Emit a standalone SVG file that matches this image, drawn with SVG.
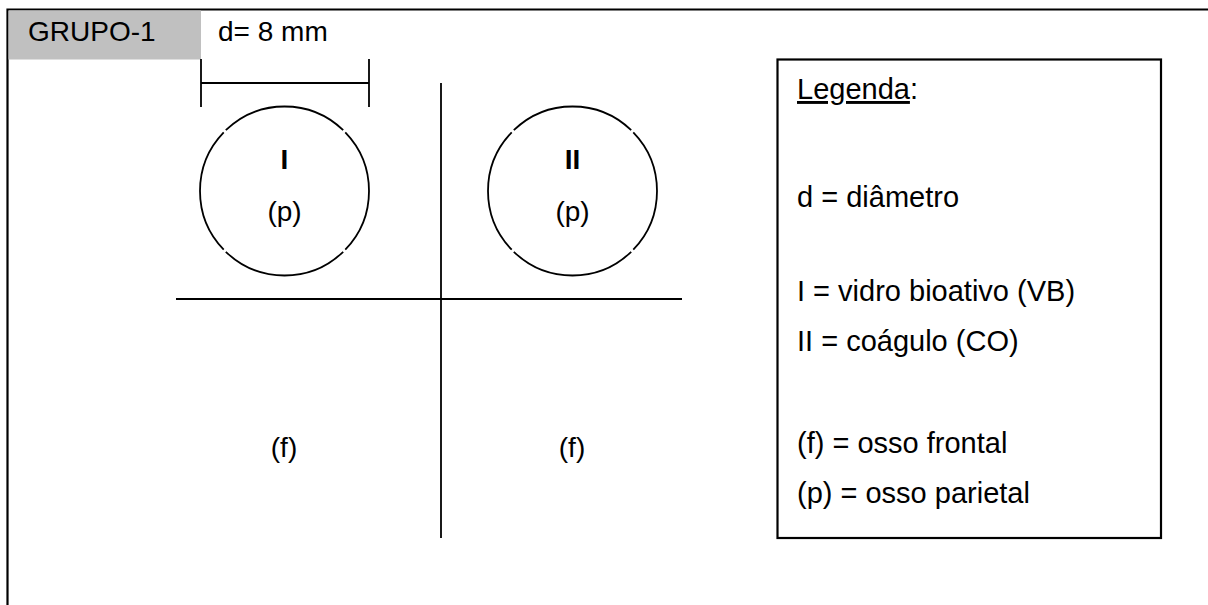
<svg xmlns="http://www.w3.org/2000/svg" width="1208" height="605" viewBox="0 0 1208 605">
<style>
text{font-family:"Liberation Sans",Arial,sans-serif;font-size:28px;fill:#000}
.c{text-anchor:middle}
.b{font-weight:bold}
.lg{font-size:29px}
.ln{stroke:#000;stroke-width:1.8;fill:none}
.circ{stroke:#000;stroke-width:1.8;fill:none;stroke-dasharray:88 2;stroke-dashoffset:44}
</style>
<rect width="1208" height="605" fill="#fff"/>
<g id="frame">
<path d="M7.5,605 V9.5 H1208" fill="none" stroke="#000" stroke-width="2.2"/>
</g>
<g id="header">
<rect x="8.5" y="10.5" width="192.5" height="49" fill="#c0c0c0"/>
<text x="28" y="41">GRUPO-1</text>
<text x="218" y="41">d= 8 mm</text>
</g>
<g id="dimension">
<line class="ln" x1="201" y1="59" x2="201" y2="107"/>
<line class="ln" x1="369" y1="59" x2="369" y2="107"/>
<line class="ln" x1="201" y1="83" x2="369" y2="83"/>
</g>
<g id="connectors">
<line class="ln" x1="441" y1="83" x2="441" y2="538"/>
<line class="ln" x1="176" y1="299" x2="682" y2="299"/>
</g>
<g id="node-I">
<circle class="circ" cx="284.5" cy="191" r="84.5" pathLength="360"/>
<text class="c b" x="284.5" y="169">I</text>
<text class="c" x="284.5" y="221">(p)</text>
</g>
<g id="node-II">
<circle class="circ" cx="572.5" cy="191" r="84.5" pathLength="360"/>
<text class="c b" x="572.5" y="169">II</text>
<text class="c" x="572.5" y="221">(p)</text>
</g>
<g id="f-left"><text class="c" x="284" y="457">(f)</text></g>
<g id="f-right"><text class="c" x="572" y="457">(f)</text></g>
<g id="legend">
<rect x="777.5" y="59.5" width="383.5" height="478.5" fill="#fff" stroke="#000" stroke-width="2.2"/>
<text class="lg" x="797" y="99"><tspan text-decoration="underline">Legenda</tspan>:</text>
<text class="lg" x="797" y="207">d = diâmetro</text>
<text class="lg" x="797" y="301">I = vidro bioativo (VB)</text>
<text class="lg" x="797" y="351">II = coágulo (CO)</text>
<text class="lg" x="797" y="453">(f) = osso frontal</text>
<text class="lg" x="797" y="503">(p) = osso parietal</text>
</g>
</svg>
